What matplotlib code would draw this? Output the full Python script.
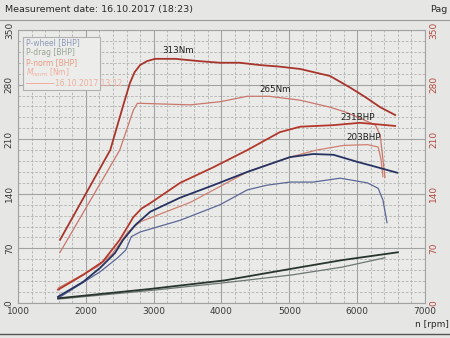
import matplotlib.pyplot as plt
from matplotlib.patches import Rectangle

# dyno run, current (thick) and reference (thin) traces
rpm_m_new = [1620, 2360, 2560, 2650, 2720, 2800, 2900, 3020, 3320, 3680, 3980, 4270, 4570, 4860, 5160, 5600, 5900, 6120, 6340, 6560]
m_new = [81, 196, 256, 282, 296, 305, 310, 313, 313, 310, 308, 308, 305, 303, 300, 291, 276, 264, 251, 241]

rpm_m_old = [1620, 2500, 2700, 2760, 2800, 3540, 3980, 4380, 4700, 5160, 5600, 5820, 6040, 6270, 6340, 6410]
m_old = [65, 196, 247, 256, 256, 254, 258, 265, 265, 260, 251, 245, 237, 228, 215, 161]

rpm_pn_new = [1590, 1960, 2250, 2500, 2700, 2820, 2950, 3390, 3880, 4380, 4860, 5160, 5650, 6040, 6560]
pn_new = [17, 36, 53, 81, 110, 121, 128, 154, 174, 196, 219, 226, 228, 231, 227]

rpm_pn_old = [1590, 2180, 2390, 2620, 2800, 3540, 4380, 5010, 5400, 5800, 6150, 6310, 6350, 6380]
pn_old = [19, 47, 63, 91, 104, 129, 168, 187, 196, 202, 203, 200, 185, 162]

rpm_pw_new = [1590, 1960, 2210, 2430, 2550, 2730, 2950, 3390, 3880, 4380, 5010, 5350, 5650, 6000, 6340, 6590]
pw_new = [8, 27, 45, 64, 81, 100, 117, 135, 151, 168, 187, 191, 190, 181, 173, 167]

rpm_pw_old = [1590, 2210, 2470, 2590, 2670, 2800, 3390, 3980, 4380, 4670, 5010, 5350, 5750, 6150, 6310, 6380, 6440]
pw_old = [6, 40, 58, 68, 85, 91, 106, 126, 145, 151, 155, 155, 160, 154, 147, 132, 103]

rpm_pd_new = [1590, 2950, 4050, 5040, 5780, 6600]
pd_new = [6, 18, 29, 44, 55, 65]

rpm_pd_old = [1590, 2950, 4050, 5040, 5780, 6410]
pd_old = [5, 16, 26, 36, 46, 58]

x_ticks = [1000, 2000, 3000, 4000, 5000, 6000, 7000]
y_ticks = [0, 70, 140, 210, 280, 350]

legend_lines = ["P-wheel [BHP]", "P-drag [BHP]", "P-norm [BHP]", "$M_{norm}$ [Nm]"]
legend_colors = ["#8e9abb", "#98a596", "#ec9a84", "#f2ad9e"]

paper = "#e6e6e4"
fig = plt.figure(figsize=(4.5, 3.38), dpi=100, facecolor=paper)
ax = fig.add_axes([0.04, 0.1036, 0.9044, 0.8077])
ax.set_facecolor("#eaeae8")
ax.set_xlim(1000, 7000)
ax.set_ylim(0, 350)

# grid: solid every 1000 rpm / 70 units, dashed in between
for x in range(1000, 7001, 200):
    major = x % 1000 == 0
    ax.axvline(x, color="#a2a2a2" if major else "#b0b0b0", lw=0.8 if major else 0.6,
               ls="-" if major else (0, (3, 2)), zorder=1)
for y in range(0, 351, 14):
    major = y % 70 == 0
    ax.axhline(y, color="#a2a2a2" if major else "#b0b0b0", lw=0.8 if major else 0.6,
               ls="-" if major else (0, (3, 2)), zorder=1)

ax.plot(rpm_m_old, m_old, color="#c9776c", lw=0.9, zorder=3)
ax.plot(rpm_pn_old, pn_old, color="#cf8070", lw=0.9, zorder=3)
ax.plot(rpm_pw_old, pw_old, color="#5c6896", lw=0.9, zorder=3)
ax.plot(rpm_pd_old, pd_old, color="#6d7872", lw=0.9, zorder=3)

ax.plot(rpm_m_new, m_new, color="#a8352c", lw=1.3, zorder=4)
ax.plot(rpm_pn_new, pn_new, color="#b3382c", lw=1.3, zorder=4)
ax.plot(rpm_pw_new, pw_new, color="#263262", lw=1.3, zorder=4)
ax.plot(rpm_pd_new, pd_new, color="#27352d", lw=1.3, zorder=4)

for txt, x, y in [("313Nm", 3360, 324), ("265Nm", 4790, 274), ("231BHP", 6000, 238), ("203BHP", 6090, 212)]:
    ax.text(x, y, txt, fontsize=6.3, color="#1e1e1e", ha="center", va="center", zorder=5)

for s in ax.spines.values():
    s.set_color("#a2a2a2")
    s.set_linewidth(0.8)

ax.set_xticks(x_ticks)
ax.set_yticks(y_ticks)
ax.tick_params(length=0, labelsize=6.5, colors="#3a3a3a", pad=3)
for lbl in ax.get_yticklabels():
    lbl.set_rotation(90)
    lbl.set_va("center")

ax_r = ax.twinx()
ax_r.set_ylim(0, 350)
ax_r.set_yticks(y_ticks)
ax_r.tick_params(length=0, labelsize=6.5, colors="#b34a3e", pad=3)
for lbl in ax_r.get_yticklabels():
    lbl.set_rotation(90)
    lbl.set_va("center")
for s in ax_r.spines.values():
    s.set_visible(False)

# legend box in the upper left corner of the plot
box = Rectangle((0.012, 0.78), 0.19, 0.195, transform=ax.transAxes, facecolor="#ececea",
                edgecolor="#b0b0b0", lw=0.8, zorder=6)
ax.add_patch(box)
for i, (txt, col) in enumerate(zip(legend_lines, legend_colors)):
    ax.text(0.02, 0.955 - i * 0.037, txt, transform=ax.transAxes, fontsize=5.5, color=col,
            va="center", ha="left", zorder=7)
ax.plot([0.02, 0.085], [0.805, 0.805], transform=ax.transAxes, color="#f2ad9e", lw=0.7, zorder=7)
ax.text(0.09, 0.805, "16.10.2017 13:12", transform=ax.transAxes, fontsize=5.5, color="#f2ad9e",
        va="center", ha="left", zorder=7)

# page header and footer
fig.text(0.012, 0.985, "Measurement date: 16.10.2017 (18:23)", fontsize=6.8, color="#2a2a2a",
         va="top", ha="left")
fig.text(0.955, 0.985, "Pag", fontsize=6.8, color="#2a2a2a", va="top", ha="left")
fig.add_artist(plt.Line2D([0, 1], [0.94, 0.94], color="#9a9a9a", lw=0.8))
fig.text(0.997, 0.04, "n [rpm]", fontsize=6.5, color="#2a2a2a", va="center", ha="right")
fig.add_artist(plt.Line2D([0, 1], [0.012, 0.012], color="#555555", lw=1.0))

fig.savefig("out.png", dpi=100, facecolor=paper)
